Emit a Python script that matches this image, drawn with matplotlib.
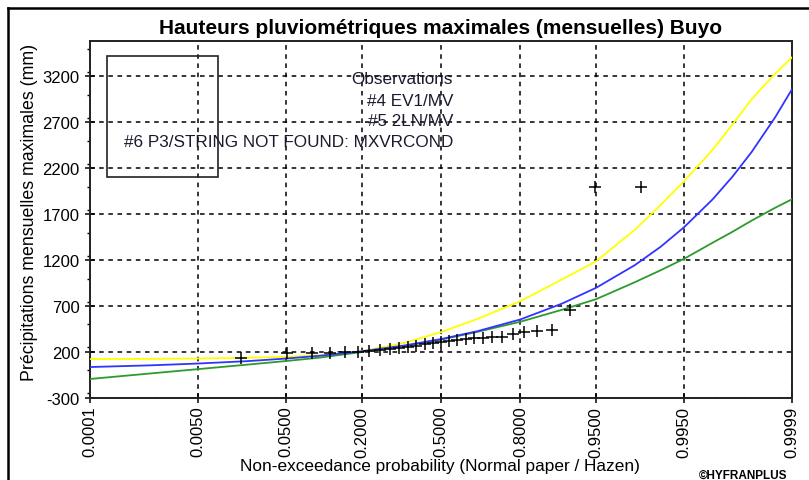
import numpy as np
import matplotlib
matplotlib.use("Agg")
import matplotlib.pyplot as plt
from matplotlib.lines import Line2D
from matplotlib.patches import Rectangle
from matplotlib.ticker import FixedLocator, NullLocator, MultipleLocator
from statistics import NormalDist

plt.rcParams['font.family'] = ['Liberation Sans', 'DejaVu Sans']
plt.rcParams['axes.unicode_minus'] = False

# ---------------- data ----------------
title = "Hauteurs pluviométriques maximales (mensuelles) Buyo"
ylabel = "Précipitations mensuelles maximales (mm)"
xlabel = "Non-exceedance probability (Normal paper / Hazen)"

x_ticks = [0.0001, 0.005, 0.05, 0.2, 0.5, 0.8, 0.95, 0.995, 0.9999]
x_tick_labels = ["0.0001", "0.0050", "0.0500", "0.2000", "0.5000",
                 "0.8000", "0.9500", "0.9950", "0.9999"]
y_ticks = [-300, 200, 700, 1200, 1700, 2200, 2700, 3200]

# observations (Hazen plotting positions, n = 29)
obs_p = [0.0172, 0.0517, 0.0862, 0.1207, 0.1552, 0.1897, 0.2241, 0.2586,
         0.2931, 0.3276, 0.3621, 0.3966, 0.4310, 0.4655, 0.5000, 0.5345,
         0.5690, 0.6034, 0.6379, 0.6724, 0.7069, 0.7414, 0.7759, 0.8103,
         0.8448, 0.8793, 0.9138, 0.9483, 0.9828]
obs_v = [140, 190, 195, 195, 200, 205, 215, 225, 235, 245, 255, 265, 285,
         300, 309, 320, 335, 341, 350, 355, 363, 365, 396, 417, 428, 439,
         657, 2000, 2000]

# fitted curves
ev1_p = [0.0001, 0.001, 0.005, 0.02, 0.05, 0.1, 0.2, 0.35, 0.5, 0.65, 0.8,
         0.9, 0.95, 0.98, 0.99, 0.995, 0.998, 0.999, 0.9995, 0.9998, 0.9999]
ev1_v = [124, 126, 130, 137, 148, 165, 210, 300, 417, 560, 754,
         990, 1189, 1530, 1800, 2060, 2400, 2680, 2950, 3230, 3407]

ln2_p = [0.0001, 0.001, 0.005, 0.02, 0.05, 0.1, 0.2, 0.35, 0.5, 0.65, 0.8,
         0.9, 0.95, 0.98, 0.99, 0.995, 0.998, 0.999, 0.9995, 0.9998, 0.9999]
ln2_v = [37, 55, 75, 101, 129, 160, 208, 272, 341, 427, 555,
         727, 900, 1146, 1345, 1559, 1862, 2111, 2376, 2754, 3060]

p3_p = [0.0001, 0.001, 0.005, 0.02, 0.05, 0.1, 0.2, 0.35, 0.5, 0.65, 0.8,
        0.9, 0.95, 0.98, 0.99, 0.995, 0.998, 0.999, 0.9995, 0.9998, 0.9999]
p3_v = [-93, -34, 14, 63, 102, 140, 200, 265, 335, 420, 530,
        660, 776, 960, 1090, 1215, 1390, 1510, 1630, 1770, 1863]

legend_labels = ["Observations", "#4 EV1/MV", "#5 2LN/MV",
                 "#6 P3/STRING NOT FOUND: MXVRCOND"]

# ---------------- normal probability scale ----------------
_nd = NormalDist()


def _fwd(p):
    p = np.asarray(p, dtype=float)
    out = np.full(p.shape, np.nan)
    ok = np.isfinite(p)
    pc = np.clip(p[ok], 1e-12, 1 - 1e-12)
    out[ok] = [_nd.inv_cdf(v) for v in pc.ravel()]
    return out


def _inv(z):
    z = np.asarray(z, dtype=float)
    out = np.full(z.shape, np.nan)
    ok = np.isfinite(z)
    out[ok] = [_nd.cdf(v) for v in z[ok].ravel()]
    return out


W, H = 809, 481
fig = plt.figure(figsize=(W / 100, H / 100), dpi=100)
ax = fig.add_axes([90 / W, 1 - 399 / H, (792 - 90) / W, (399 - 42) / H])
ax.set_xscale('function', functions=(_fwd, _inv))
ax.set_xlim(0.0001, 0.9999)
ax.set_ylim(-300, 3585)

ax.plot(ev1_p, ev1_v, color='#ffff00', lw=1.3, zorder=3)
ax.plot(ln2_p, ln2_v, color='#3333ff', lw=1.3, zorder=4)
ax.plot(p3_p, p3_v, color='#2e9a2e', lw=1.3, zorder=3)
ax.plot(obs_p, obs_v, linestyle='none', marker='+', color='black',
        markersize=9, markeredgewidth=1.1, zorder=5)

ax.xaxis.set_major_locator(FixedLocator(x_ticks))
ax.xaxis.set_minor_locator(NullLocator())
ax.set_xticklabels(x_tick_labels, rotation=90, fontsize=12)
ax.yaxis.set_major_locator(FixedLocator(y_ticks))
ax.yaxis.set_minor_locator(MultipleLocator(250))
ax.tick_params(axis='y', which='major', direction='inout', length=7,
               width=1.1, labelsize=12, pad=4)
ax.tick_params(axis='y', which='minor', direction='out', length=2.5, width=1)
ax.tick_params(axis='x', which='major', direction='inout', length=7,
               width=1.1, pad=2)

ax.grid(True, which='major', color='black', linestyle=(0, (3, 3)),
        linewidth=1.1, zorder=1)
for s in ax.spines.values():
    s.set_linewidth(1.4)
    s.set_color('#222222')

# legend (empty box + labels, as in the reference)
ax.add_patch(Rectangle(((107 - 90) / 702, (399 - 178) / 357),
                       (218 - 107) / 702, (178 - 57) / 357,
                       transform=ax.transAxes, fill=False,
                       edgecolor='#222222', lw=1.2, zorder=6))
for lab, ypx in zip(legend_labels, [79, 101, 122, 143]):
    ax.text((453 - 90) / 702, (399 - ypx) / 357, lab, transform=ax.transAxes,
            ha='right', va='center', fontsize=12.3, color='#1a1a2e', zorder=6)

fig.text(441 / W, 1 - 28 / H, title, ha='center', va='center',
         fontsize=15, fontweight='bold')
fig.text(30 / W, 1 - 212 / H, ylabel, rotation=90, ha='center', va='center',
         fontsize=12.8)
fig.text(440 / W, 1 - 466 / H, xlabel, ha='center', va='center',
         fontsize=12.4)
fig.text(743 / W, 1 - 476 / H, "©HYFRANPLUS", ha='center', va='center',
         fontsize=8.5, fontweight='bold')

# outer frame (top and left edges visible)
fig.add_artist(Line2D([8 / W, 1], [1 - 9 / H, 1 - 9 / H],
                      transform=fig.transFigure, color='black', lw=1.8))
fig.add_artist(Line2D([8 / W, 8 / W], [0, 1 - 9 / H],
                      transform=fig.transFigure, color='black', lw=1.8))

fig.savefig("out.png", dpi=100)
